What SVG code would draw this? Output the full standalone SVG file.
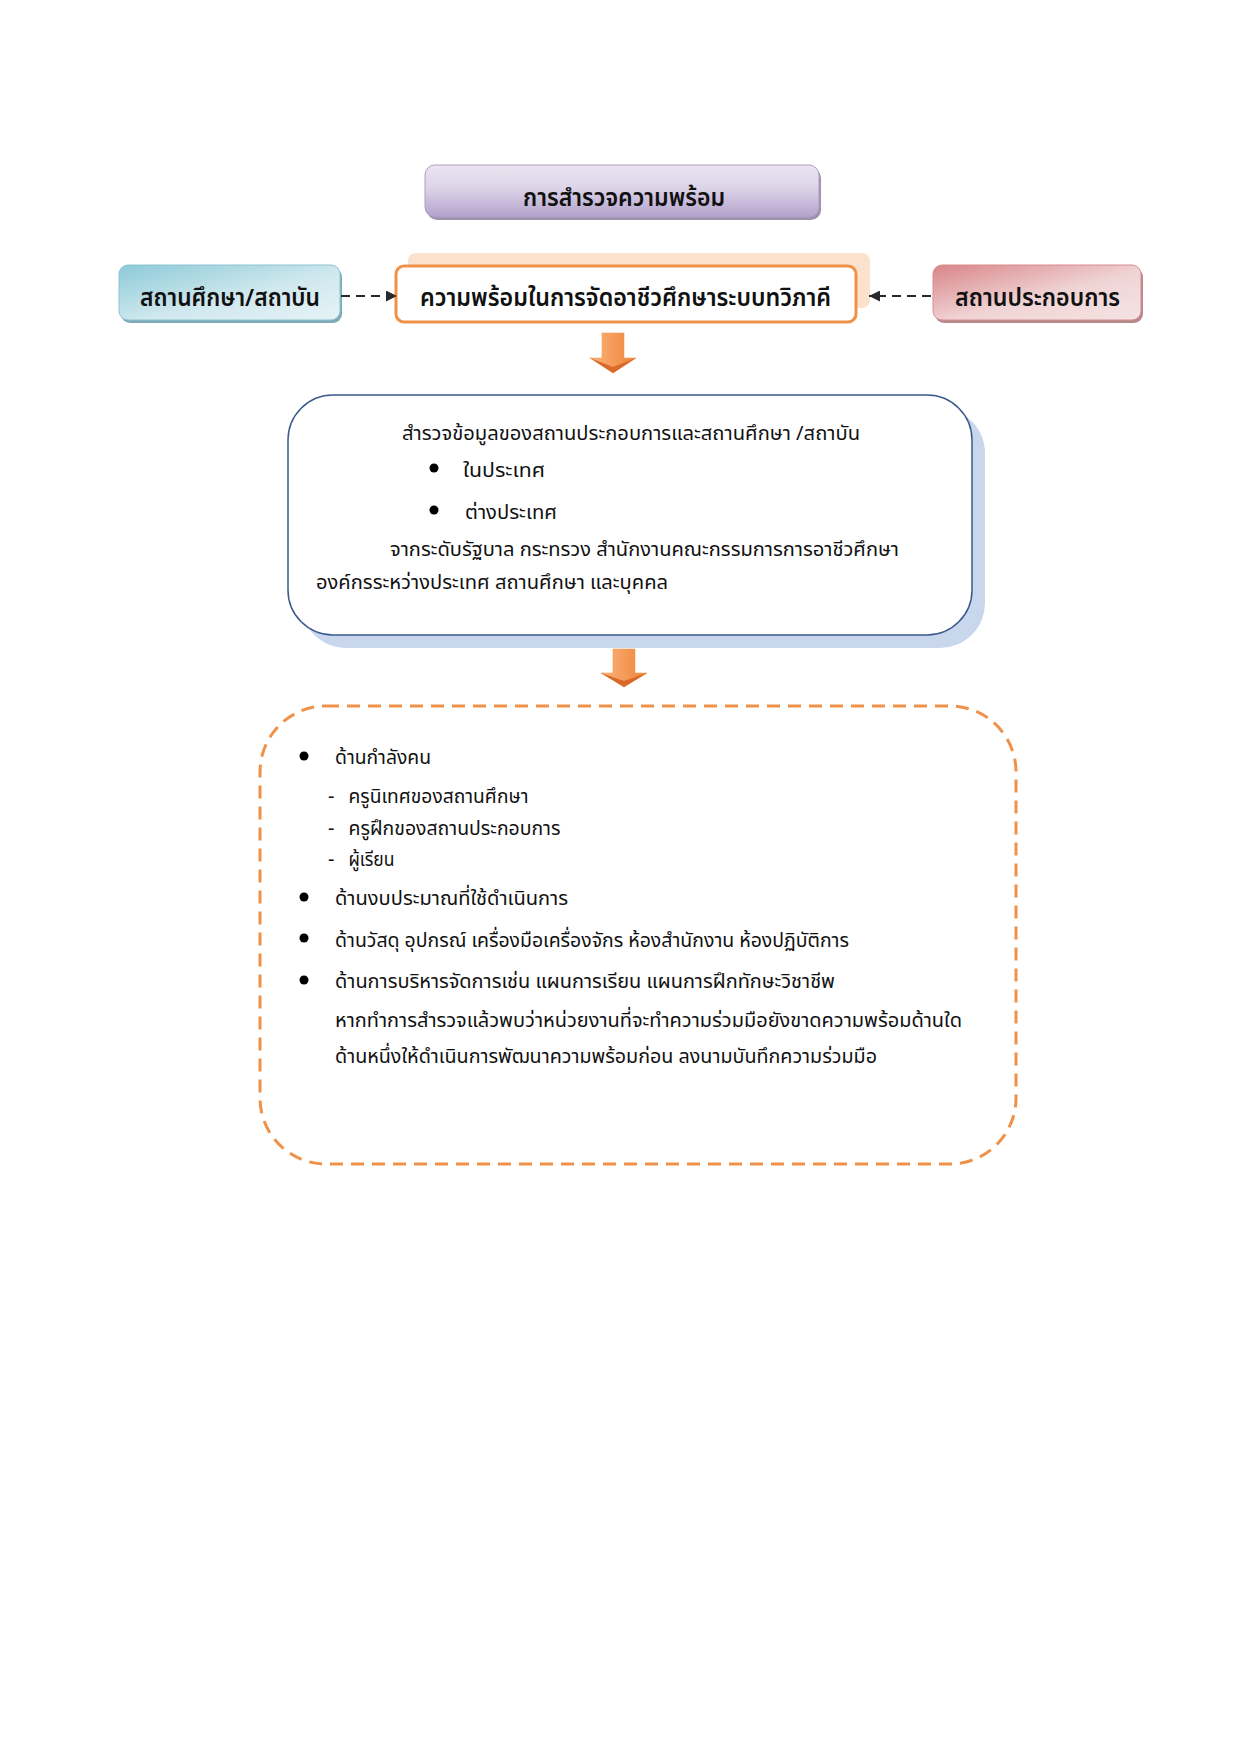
<svg xmlns="http://www.w3.org/2000/svg" width="1241" height="1754" viewBox="0 0 1241 1754">
<defs>
<style>
.hd{font-family:'Noto Sans Thai','Noto Sans','DejaVu Sans',sans-serif;font-size:24px;font-weight:600;fill:#111}
.tx{font-family:'Noto Sans Thai','Noto Sans','DejaVu Sans',sans-serif;font-size:20px;fill:#111}
.dot{fill:#000}
.conn{stroke:#2a2a2a;stroke-width:1.8;stroke-dasharray:9 6;fill:none}
</style>
<linearGradient id="gPurple" x1="0" y1="0" x2="0" y2="1">
<stop offset="0" stop-color="#ebe6f1"/><stop offset="0.45" stop-color="#dcd3e8"/><stop offset="1" stop-color="#b3a2cc"/>
</linearGradient>
<linearGradient id="gBlue" x1="0" y1="0" x2="1" y2="1">
<stop offset="0" stop-color="#8ccad8"/><stop offset="0.55" stop-color="#cfe8ee"/><stop offset="1" stop-color="#e6f3f6"/>
</linearGradient>
<linearGradient id="gRed" x1="0" y1="0" x2="1" y2="1">
<stop offset="0" stop-color="#d88588"/><stop offset="0.55" stop-color="#f0d4d5"/><stop offset="1" stop-color="#f5e3e3"/>
</linearGradient>
<linearGradient id="gArrow" x1="0" y1="0" x2="1" y2="0">
<stop offset="0" stop-color="#fbb47c"/><stop offset="1" stop-color="#ee8236"/>
</linearGradient>
<marker id="ah" viewBox="0 0 10 10" refX="10" refY="5" markerWidth="11" markerHeight="11" markerUnits="userSpaceOnUse" orient="auto">
<path d="M0,0 L10,5 L0,10 Z" fill="#2a2a2a"/>
</marker>
</defs>
<rect width="1241" height="1754" fill="#fff"/>

<g id="node-survey">
<rect x="427" y="168" width="394" height="52" rx="10" fill="#9e92ae"/>
<rect x="425" y="165" width="394" height="52" rx="10" fill="url(#gPurple)" stroke="#ab9ec4" stroke-width="1"/>
<text class="hd" x="624" y="206" text-anchor="middle" textLength="202" lengthAdjust="spacingAndGlyphs">การสำรวจความพร้อม</text>
</g>

<g id="node-readiness">
<rect x="408" y="253" width="462" height="55" rx="8" fill="#fbe2cc"/>
<rect x="396" y="266" width="460" height="56" rx="8" fill="#fff" stroke="#f0914a" stroke-width="3"/>
<text class="hd" x="625.5" y="306" text-anchor="middle" textLength="411" lengthAdjust="spacingAndGlyphs">ความพร้อมในการจัดอาชีวศึกษาระบบทวิภาคี</text>
</g>

<g id="node-school">
<rect x="121" y="268" width="221" height="55" rx="9" fill="#7eaab8"/>
<rect x="119" y="265" width="221" height="55" rx="9" fill="url(#gBlue)" stroke="#8ec3d1" stroke-width="1"/>
<text class="hd" x="230" y="306" text-anchor="middle" textLength="180" lengthAdjust="spacingAndGlyphs">สถานศึกษา/สถาบัน</text>
</g>

<g id="node-company">
<rect x="935" y="268" width="208" height="55" rx="9" fill="#b58a8c"/>
<rect x="933" y="265" width="208" height="55" rx="9" fill="url(#gRed)" stroke="#d98c8f" stroke-width="1"/>
<text class="hd" x="1037.5" y="306" text-anchor="middle" textLength="165" lengthAdjust="spacingAndGlyphs">สถานประกอบการ</text>
</g>

<g id="node-data">
<rect x="301" y="408" width="684" height="240" rx="45" fill="#c9d7ec"/>
<rect x="288" y="395" width="684" height="240" rx="45" fill="#fff" stroke="#3b5a8c" stroke-width="1.5"/>
<text class="tx" x="402" y="440" textLength="458" lengthAdjust="spacingAndGlyphs">สำรวจข้อมูลของสถานประกอบการและสถานศึกษา /สถาบัน</text>
<circle class="dot" cx="434" cy="468" r="4.5"/>
<text class="tx" x="463" y="477" textLength="82" lengthAdjust="spacingAndGlyphs">ในประเทศ</text>
<circle class="dot" cx="434" cy="510" r="4.5"/>
<text class="tx" x="465" y="519" textLength="92" lengthAdjust="spacingAndGlyphs">ต่างประเทศ</text>
<text class="tx" x="390" y="556" textLength="509" lengthAdjust="spacingAndGlyphs">จากระดับรัฐบาล กระทรวง สำนักงานคณะกรรมการการอาชีวศึกษา</text>
<text class="tx" x="316" y="589" textLength="352" lengthAdjust="spacingAndGlyphs">องค์กรระหว่างประเทศ สถานศึกษา และบุคคล</text>
</g>

<g id="node-aspects">
<rect x="260" y="706" width="756" height="458" rx="66" fill="none" stroke="#f0914a" stroke-width="3" stroke-dasharray="13 8"/>
<circle class="dot" cx="304" cy="756" r="4.5"/>
<text class="tx" x="335" y="764" textLength="96" lengthAdjust="spacingAndGlyphs">ด้านกำลังคน</text>
<text class="tx" x="328" y="803">-</text>
<text class="tx" x="348.5" y="803" textLength="180" lengthAdjust="spacingAndGlyphs">ครูนิเทศของสถานศึกษา</text>
<text class="tx" x="328" y="835">-</text>
<text class="tx" x="348.5" y="835" textLength="212" lengthAdjust="spacingAndGlyphs">ครูฝึกของสถานประกอบการ</text>
<text class="tx" x="328" y="866">-</text>
<text class="tx" x="348.5" y="866" textLength="46" lengthAdjust="spacingAndGlyphs">ผู้เรียน</text>
<circle class="dot" cx="304" cy="897" r="4.5"/>
<text class="tx" x="335" y="905" textLength="233" lengthAdjust="spacingAndGlyphs">ด้านงบประมาณที่ใช้ดำเนินการ</text>
<circle class="dot" cx="304" cy="938" r="4.5"/>
<text class="tx" x="335" y="947" textLength="514" lengthAdjust="spacingAndGlyphs">ด้านวัสดุ อุปกรณ์ เครื่องมือเครื่องจักร ห้องสำนักงาน ห้องปฏิบัติการ</text>
<circle class="dot" cx="304" cy="980" r="4.5"/>
<text class="tx" x="335" y="988" textLength="500" lengthAdjust="spacingAndGlyphs">ด้านการบริหารจัดการเช่น แผนการเรียน แผนการฝึกทักษะวิชาชีพ</text>
<text class="tx" x="335" y="1027" textLength="627" lengthAdjust="spacingAndGlyphs">หากทำการสำรวจแล้วพบว่าหน่วยงานที่จะทำความร่วมมือยังขาดความพร้อมด้านใด</text>
<text class="tx" x="335" y="1063" textLength="542" lengthAdjust="spacingAndGlyphs">ด้านหนึ่งให้ดำเนินการพัฒนาความพร้อมก่อน ลงนามบันทึกความร่วมมือ</text>
</g>

<g id="connectors">
<line class="conn" x1="341" y1="296" x2="397" y2="296" marker-end="url(#ah)"/>
<line class="conn" x1="931" y1="296" x2="869" y2="296" marker-end="url(#ah)"/>
<path d="M602,333 H624 V358 H636 L613,373 L590,358 H602 Z" fill="url(#gArrow)" stroke="#f0a060" stroke-width="0.6"/>
<path d="M590,358 L613,373 L636,358 L613,367 Z" fill="#d9692a"/>
<path d="M613,649 H635 V673 H647 L624,687 L601,673 H613 Z" fill="url(#gArrow)" stroke="#f0a060" stroke-width="0.6"/>
<path d="M601,673 L624,687 L647,673 L624,681 Z" fill="#d9692a"/>
</g>
</svg>
